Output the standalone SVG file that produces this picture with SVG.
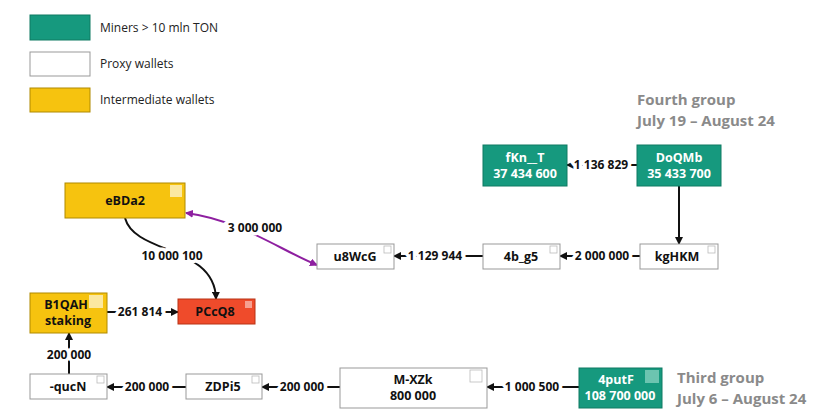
<svg xmlns="http://www.w3.org/2000/svg" width="828" height="418" viewBox="0 0 828 418">
<style>
.t{font-family:"Open Sans","DejaVu Sans",sans-serif;font-weight:bold;font-size:12.5px;text-anchor:middle;fill:#111}
.w{fill:#fff}
.lg{font-family:"Open Sans","DejaVu Sans",sans-serif;font-size:12px;fill:#222}
.g{font-family:"Open Sans","DejaVu Sans",sans-serif;font-weight:bold;font-size:15px;fill:#8a8a8a}
.px{fill:#fff;stroke:#999;stroke-width:1}
.mn{fill:#16997e;stroke:#0e7a63;stroke-width:1}
.im{fill:#f6c30f;stroke:#b08a00;stroke-width:1}
.rd{fill:#ef4b2b;stroke:#b83215;stroke-width:1}
.ic{fill:none;stroke:#bbb;stroke-width:0.8}
.e{fill:none;stroke:#111;stroke-width:2;marker-end:url(#a)}
.l{font-family:"Open Sans","DejaVu Sans",sans-serif;font-weight:bold;font-size:12px;text-anchor:middle;fill:#111;stroke:#fff;stroke-width:7;paint-order:stroke}
</style>
<defs>
<marker id="a" markerWidth="8" markerHeight="8" refX="7" refY="4" orient="auto" markerUnits="userSpaceOnUse"><path d="M0,0 L8,4 L0,8 Z" fill="#111"/></marker>
<marker id="p" markerWidth="8" markerHeight="8" refX="7" refY="4" orient="auto-start-reverse" markerUnits="userSpaceOnUse"><path d="M0,0 L8,4 L0,8 Z" fill="#8e1fa0"/></marker>
</defs>
<g id="legend">
<rect x="30" y="15" width="60" height="25" class="mn"/><text x="100" y="32" class="lg">Miners &gt; 10 mln TON</text>
<rect x="30" y="52" width="60" height="24" class="px"/><text x="100" y="68" class="lg">Proxy wallets</text>
<rect x="30" y="88" width="60" height="24" class="im"/><text x="100" y="104" class="lg">Intermediate wallets</text>
</g>
<g id="groups">
<text x="637" y="105" class="g">Fourth group</text><text x="637" y="126" class="g">July 19 – August 24</text>
<text x="677" y="383" class="g">Third group</text><text x="677" y="404" class="g">July 6 – August 24</text>
</g>
<g id="connectors">
<path d="M637,165 H567" class="e"/><text x="601" y="169" class="l">1 136 829</text>
<path d="M679,186 V244" class="e"/>
<path d="M640,256 H560" class="e"/><text x="602" y="260" class="l">2 000 000</text>
<path d="M483,256 H394" class="e"/><text x="435" y="260" class="l">1 129 944</text>
<path d="M317,265 C280,250 240,220 186,213" fill="none" stroke="#8e1fa0" stroke-width="2" marker-end="url(#p)" marker-start="url(#p)"/><text x="255" y="232" class="l">3 000 000</text>
<path d="M125,218 C135,255 215,245 216,299" class="e"/><text x="172" y="260" class="l">10 000 100</text>
<path d="M107,312 H178" class="e"/><text x="140" y="316" class="l">261 814</text>
<path d="M69,374 V333" class="e"/><text x="69" y="359" class="l">200 000</text>
<path d="M186,387 H107" class="e"/><text x="147" y="391" class="l">200 000</text>
<path d="M340,387 H262" class="e"/><text x="302" y="391" class="l">200 000</text>
<path d="M579,387 H487" class="e"/><text x="532" y="391" class="l">1 000 500</text>
</g>
<g id="eBDa2"><rect x="65" y="183" width="120" height="35" class="im"/><rect x="170" y="185" width="12" height="12" fill="#fbe8a0"/><text x="125" y="205" class="t">eBDa2</text></g>
<g id="u8WcG"><rect x="317" y="244" width="77" height="25" class="px"/><rect x="384" y="246" width="7" height="7" class="ic"/><text x="355" y="261" class="t">u8WcG</text></g>
<g id="4b_g5"><rect x="483" y="244" width="77" height="25" class="px"/><rect x="550" y="246" width="7" height="7" class="ic"/><text x="521" y="261" class="t">4b_g5</text></g>
<g id="kgHKM"><rect x="640" y="244" width="78" height="25" class="px"/><rect x="708" y="246" width="7" height="7" class="ic"/><text x="677" y="261" class="t">kgHKM</text></g>
<g id="fKn_T"><rect x="483" y="145" width="84" height="41" class="mn"/><text x="525" y="162" class="t w">fKn__T</text><text x="525" y="178" class="t w">37 434 600</text></g>
<g id="DoQMb"><rect x="637" y="145" width="84" height="41" class="mn"/><text x="679" y="162" class="t w">DoQMb</text><text x="679" y="178" class="t w">35 433 700</text></g>
<g id="B1QAH"><rect x="30" y="293" width="77" height="40" class="im"/><rect x="89" y="295" width="14" height="13" fill="#fbe8a0"/><text x="66" y="309" class="t">B1QAH</text><text x="68" y="325" class="t">staking</text></g>
<g id="PCcQ8"><rect x="178" y="299" width="77" height="25" class="rd"/><rect x="245" y="301" width="7" height="7" fill="#f6a090"/><text x="215" y="316" class="t">PCcQ8</text></g>
<g id="qucN"><rect x="30" y="374" width="77" height="25" class="px"/><rect x="97" y="376" width="7" height="7" class="ic"/><text x="68" y="391" class="t">-qucN</text></g>
<g id="ZDPi5"><rect x="186" y="374" width="76" height="25" class="px"/><rect x="252" y="376" width="7" height="7" class="ic"/><text x="223" y="391" class="t">ZDPi5</text></g>
<g id="M-XZk"><rect x="340" y="368" width="147" height="40" class="px"/><rect x="470" y="370" width="12" height="12" class="ic"/><text x="413" y="384" class="t">M-XZk</text><text x="413" y="400" class="t">800 000</text></g>
<g id="4putF"><rect x="579" y="368" width="83" height="40" class="mn"/><rect x="645" y="370" width="14" height="13" fill="#6cc4b0"/><text x="616" y="384" class="t w">4putF</text><text x="620" y="400" class="t w">108 700 000</text></g>
</svg>
